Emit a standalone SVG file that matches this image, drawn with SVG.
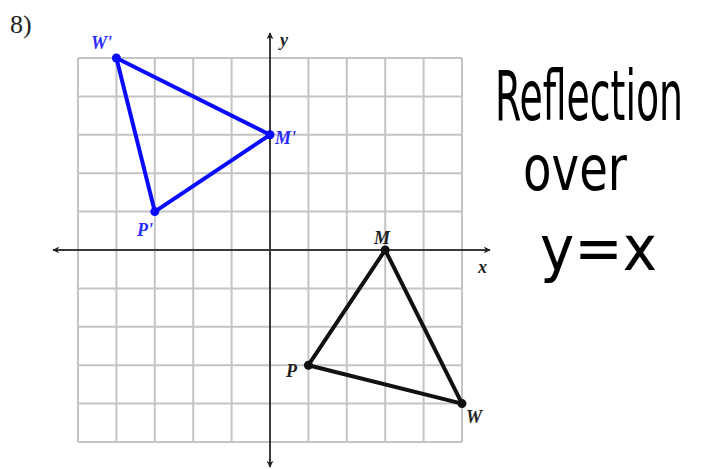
<svg xmlns="http://www.w3.org/2000/svg" width="710" height="469" viewBox="0 0 710 469">
<style>
.grid{stroke:#c4c4c4;stroke-width:2;fill:none}
.axis{stroke:#3a3a3a;stroke-width:2;fill:none}
.lbl{font-family:"Liberation Serif","DejaVu Serif",serif;font-style:italic;font-weight:bold;font-size:18px}
.blue{fill:#2b2bff}
.blk{fill:#222}
.hand{font-family:"DejaVu Sans","Liberation Sans",sans-serif;font-weight:normal;fill:#000}
.triB{stroke:#0a0aff;stroke-width:4;fill:none;stroke-linejoin:round}
.triK{stroke:#111;stroke-width:4;fill:none;stroke-linejoin:round}
</style>
<defs>
<marker id="ah" viewBox="0 0 10 10" refX="9" refY="5" markerWidth="7" markerHeight="7" orient="auto" markerUnits="userSpaceOnUse">
<path d="M0,0 L10,5 L0,10 L3,5 Z" fill="#222"/>
</marker>
</defs>
<rect width="710" height="469" fill="#fff"/>
<text x="10" y="33" font-family="Liberation Serif, serif" font-size="26" fill="#222">8)</text>
<g id="grid" class="grid">
<path d="M78,58V442M116.4,58V442M154.8,58V442M193.2,58V442M231.6,58V442M308.4,58V442M346.8,58V442M385.2,58V442M423.6,58V442M462,58V442"/>
<path d="M78,58H462M78,96.4H462M78,134.8H462M78,173.2H462M78,211.6H462M78,288.4H462M78,326.8H462M78,365.2H462M78,403.6H462M78,442H462"/>
</g>
<g id="axes" class="axis">
<line x1="270" y1="250" x2="53" y2="250" marker-end="url(#ah)"/>
<line x1="270" y1="250" x2="490" y2="250" marker-end="url(#ah)"/>
<line x1="270" y1="250" x2="270" y2="33" marker-end="url(#ah)"/>
<line x1="270" y1="250" x2="270" y2="467" marker-end="url(#ah)"/>
</g>
<text class="lbl blk" x="280" y="46">y</text>
<text class="lbl blk" x="478" y="273" font-size="16">x</text>
<g id="connectors">
<polygon class="triB" points="116.4,58 270,134.8 154.8,211.6"/>
<polygon class="triK" points="385.2,250 462,403.6 308.4,365.2"/>
</g>
<g id="W-prime"><circle cx="116.4" cy="58" r="4.5" fill="#0a0aff"/><text class="lbl blue" x="91" y="49">W'</text></g>
<g id="M-prime"><circle cx="270" cy="134.8" r="4.5" fill="#0a0aff"/><text class="lbl blue" x="275" y="144">M'</text></g>
<g id="P-prime"><circle cx="154.8" cy="211.6" r="4.5" fill="#0a0aff"/><text class="lbl blue" x="137" y="236">P'</text></g>
<g id="M"><circle cx="385.2" cy="250" r="4.5" fill="#111"/><text class="lbl blk" x="374" y="244">M</text></g>
<g id="W"><circle cx="462" cy="403.6" r="4.5" fill="#111"/><text class="lbl blk" x="466" y="423">W</text></g>
<g id="P"><circle cx="308.4" cy="365.2" r="4.5" fill="#111"/><text class="lbl blk" x="286" y="377">P</text></g>
<g id="note">
<text class="hand" x="495" y="120" font-size="70" textLength="188" lengthAdjust="spacingAndGlyphs">Reflection</text>
<text class="hand" x="523" y="190" font-size="62" textLength="104" lengthAdjust="spacingAndGlyphs">over</text>
<text class="hand" x="540" y="270" font-size="62" textLength="117" lengthAdjust="spacingAndGlyphs">y=x</text>
</g>
</svg>
